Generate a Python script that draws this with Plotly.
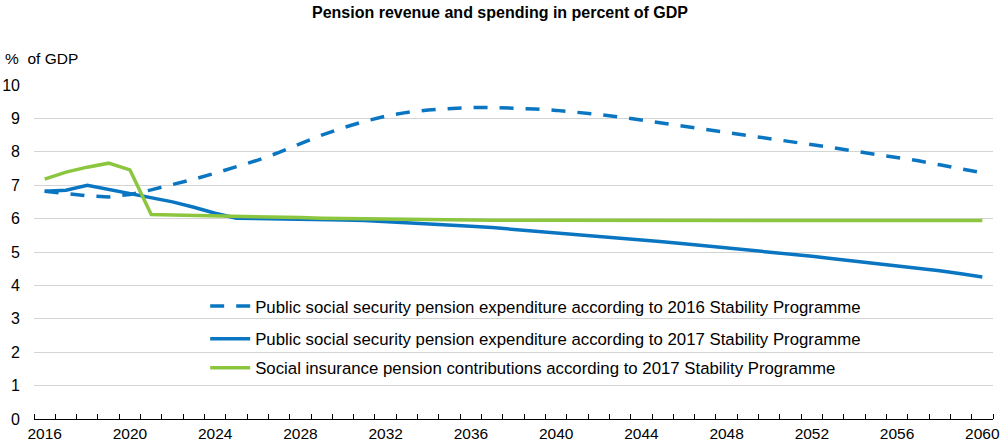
import plotly.graph_objects as go

years = list(range(2016, 2061))

exp_2016_sp = [6.82, 6.75, 6.68, 6.65, 6.72, 6.86, 7.01, 7.18, 7.36, 7.55,
               7.75, 7.98, 8.25, 8.5, 8.72, 8.91, 9.07, 9.18, 9.25, 9.3,
               9.33, 9.33, 9.31, 9.28, 9.24, 9.19, 9.12, 9.04, 8.95, 8.86,
               8.77, 8.68, 8.59, 8.5, 8.41, 8.32, 8.22, 8.12, 8.02, 7.93,
               7.83, 7.73, 7.61, 7.49, 7.37]

exp_2017_sp = [6.82, 6.85, 7.0, 6.87, 6.74, 6.63, 6.5, 6.34, 6.16, 6.01,
               6.0, 6.0, 6.0, 5.98, 5.96, 5.94, 5.91, 5.88, 5.84, 5.81,
               5.77, 5.73, 5.68, 5.63, 5.58, 5.53, 5.48, 5.43, 5.37, 5.31,
               5.25, 5.19, 5.13, 5.06, 5.0, 4.93, 4.87, 4.8, 4.73, 4.66,
               4.59, 4.52, 4.44, 4.35, 4.25]

contrib_2017_sp = [7.18, 7.39, 7.54, 7.66, 7.46, 6.12, 6.11, 6.1, 6.08, 6.06,
                   6.05, 6.04, 6.03, 6.01, 6.0, 5.99, 5.98, 5.97, 5.96, 5.96,
                   5.95, 5.95, 5.95, 5.95, 5.95, 5.95, 5.95, 5.95, 5.95, 5.95,
                   5.95, 5.95, 5.95, 5.95, 5.95, 5.95, 5.95, 5.94, 5.94, 5.94,
                   5.94, 5.94, 5.94, 5.94, 5.94]

names = [
    "Public social security pension expenditure according to 2016 Stability Programme",
    "Public social security pension expenditure according to 2017 Stability Programme",
    "Social insurance pension contributions according to 2017 Stability Programme",
]

x_labels = [str(y) for y in range(2016, 2061, 4)]

BLUE = "#0A76C2"
GREEN = "#8CC63F"
FONT = "Liberation Sans, Arial, sans-serif"

fig = go.Figure()
fig.add_trace(go.Scatter(x=years, y=exp_2016_sp, mode="lines", name=names[0],
                         line=dict(color=BLUE, width=3.5, dash="14px,12px"),
                         legend="legend"))
fig.add_trace(go.Scatter(x=years, y=exp_2017_sp, mode="lines", name=names[1],
                         line=dict(color=BLUE, width=3.5), legend="legend2"))
fig.add_trace(go.Scatter(x=years, y=contrib_2017_sp, mode="lines", name=names[2],
                         line=dict(color=GREEN, width=3.5), legend="legend3"))

leg_common = dict(bgcolor="rgba(0,0,0,0)", font=dict(family=FONT, size=16.8, color="#000"),
                  x=0.1785, xanchor="left", yanchor="middle", itemwidth=40)

fig.update_layout(
    width=1000, height=442,
    margin=dict(l=34, r=7, t=85, b=23, autoexpand=False),
    paper_bgcolor="white", plot_bgcolor="white",
    font=dict(family=FONT, size=15, color="#000"),
    title=dict(text="<b>Pension revenue and spending in percent of GDP</b>",
               x=0.5, xanchor="center", y=0.972, yanchor="middle",
               font=dict(family=FONT, size=16, color="#000")),
    showlegend=True,
    legend=dict(y=0.338, **leg_common),
    legend2=dict(y=0.240, **leg_common),
    legend3=dict(y=0.153, **leg_common),
    xaxis=dict(
        range=[2015.5, 2060.5], automargin=False,
        tickmode="array", tickvals=list(range(2016, 2061, 4)), ticktext=x_labels,
        ticks="", showgrid=False, zeroline=False,
        showline=True, linecolor="#000", linewidth=1,
        tickfont=dict(family=FONT, size=15.5, color="#000"),
        minor=dict(ticks="inside", tick0=2015.5, dtick=1, ticklen=5,
                   tickcolor="#000", tickwidth=1, showgrid=False),
        ticklabelstandoff=0,
    ),
    yaxis=dict(
        range=[0, 10], automargin=False, tickmode="array", tickvals=list(range(0, 11)),
        showgrid=True, gridcolor="#D4D4D4", gridwidth=1.3,
        zeroline=False, showline=False, ticks="",
        tickfont=dict(family=FONT, size=16, color="#000"),
        ticklabelstandoff=13,
    ),
    annotations=[dict(text="%  of GDP", xref="paper", yref="paper",
                      x=0, xshift=-31, y=1.078, xanchor="left", yanchor="middle",
                      showarrow=False, font=dict(family=FONT, size=15.5, color="#000"))],
)

fig.write_html(
    "out.html",
    config={"displayModeBar": False},
    post_script="document.body.style.margin='0';document.body.style.overflow='hidden';",
)
